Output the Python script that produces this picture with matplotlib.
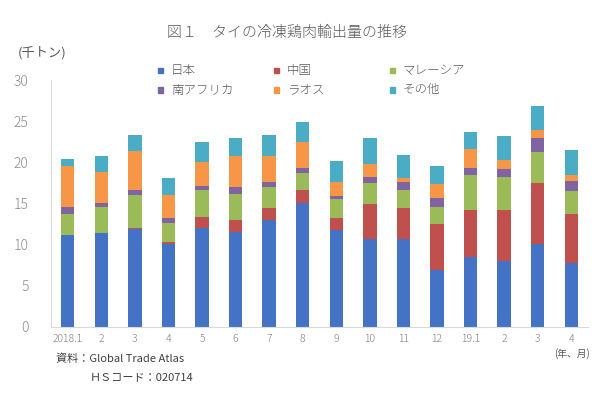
import numpy as np
import matplotlib.pyplot as plt
from matplotlib.patches import Rectangle

plt.rcParams['font.family'] = ['Noto Sans CJK JP', 'DejaVu Sans']

months = ['2018.1', '2', '3', '4', '5', '6', '7', '8', '9', '10', '11', '12',
          '19.1', '2', '3', '4']

# stacked values (thousand tonnes)
japan    = [11.1, 11.35, 11.9, 10.0, 11.95, 11.55, 13.0, 15.05, 11.75, 10.7, 10.7, 6.85, 8.5, 8.0, 10.0, 7.75]
china    = [0.0, 0.0, 0.1, 0.3, 1.35, 1.45, 1.4, 1.55, 1.45, 4.2, 3.7, 5.6, 5.65, 6.15, 7.5, 5.95]
malaysia = [2.6, 3.25, 4.0, 2.3, 3.3, 3.1, 2.6, 2.05, 2.3, 2.6, 2.2, 2.15, 4.25, 4.1, 3.75, 2.8]
safrica  = [0.9, 0.5, 0.6, 0.6, 0.55, 0.9, 0.6, 0.6, 0.45, 0.75, 0.95, 1.1, 0.9, 0.95, 1.7, 1.2]
laos     = [4.9, 3.75, 4.8, 2.8, 2.85, 3.75, 3.2, 3.2, 1.6, 1.5, 0.55, 1.6, 2.3, 1.1, 1.0, 0.7]
others   = [0.9, 1.95, 1.95, 2.05, 2.45, 2.15, 2.55, 2.4, 2.55, 3.25, 2.75, 2.3, 2.1, 2.85, 2.9, 3.1]

series = ['日本', '中国', 'マレーシア', '南アフリカ', 'ラオス', 'その他']
colors = ['#4472C4', '#C0504D', '#9BBB59', '#8064A2', '#F79646', '#4BACC6']
data = [japan, china, malaysia, safrica, laos, others]

fig = plt.figure(figsize=(6, 3.93), dpi=100)
ax = fig.add_axes([0.085, 0.1687, 0.895, 0.6277])

x = np.arange(len(months))
bottom = np.zeros(len(months))
for vals, c in zip(data, colors):
    ax.bar(x, vals, 0.4, bottom=bottom, color=c)
    bottom += np.array(vals)

ax.set_xlim(-0.5, len(months) - 0.5)
ax.set_ylim(0, 30)
ax.set_yticks(range(0, 31, 5))
ax.set_xticks(x)
ax.set_xticklabels(months)
ax.tick_params(axis='y', length=0, pad=16, labelsize=10, labelcolor='#8c8c8c')
ax.tick_params(axis='x', length=0, pad=5, labelsize=7.5, labelcolor='#7f7f7f')
for lbl in ax.get_yticklabels() + ax.get_xticklabels():
    lbl.set_fontweight('light')
for s in ['top', 'right']:
    ax.spines[s].set_visible(False)
for s in ['left', 'bottom']:
    ax.spines[s].set_color('#d9d9d9')
    ax.spines[s].set_linewidth(0.8)

# legend, laid out row-wise like the original
for i, (name, c) in enumerate(zip(series, colors)):
    col, row = i % 3, i // 3
    lx = 0.263 + col * 0.1933
    ly = 0.820 - row * 0.049
    fig.patches.append(Rectangle((lx, ly - 0.007), 0.009, 0.014,
                                 transform=fig.transFigure, color=c))
    fig.text(lx + 0.022, ly, name, fontsize=9, color='#595959', va='center',
             fontweight='light')

fig.text(0.478, 1 - 33 / 393, '図１　タイの冷凍鶏肉輸出量の推移', fontsize=10.8,
         color='#595959', ha='center', va='center', fontweight='light')
fig.text(0.03, 1 - 53 / 393, '(千トン)', fontsize=9.5, color='#595959', va='center')
fig.text(0.953, 1 - 354 / 393, '(年、月)', fontsize=7, color='#595959',
         ha='center', va='center')
fig.text(0.093, 1 - 359 / 393, '資料：Global Trade Atlas', fontsize=8,
         color='#404040', va='center')
fig.text(0.15, 1 - 378 / 393, 'ＨＳコード：020714', fontsize=8,
         color='#404040', va='center')

fig.savefig('out.png', dpi=100)
